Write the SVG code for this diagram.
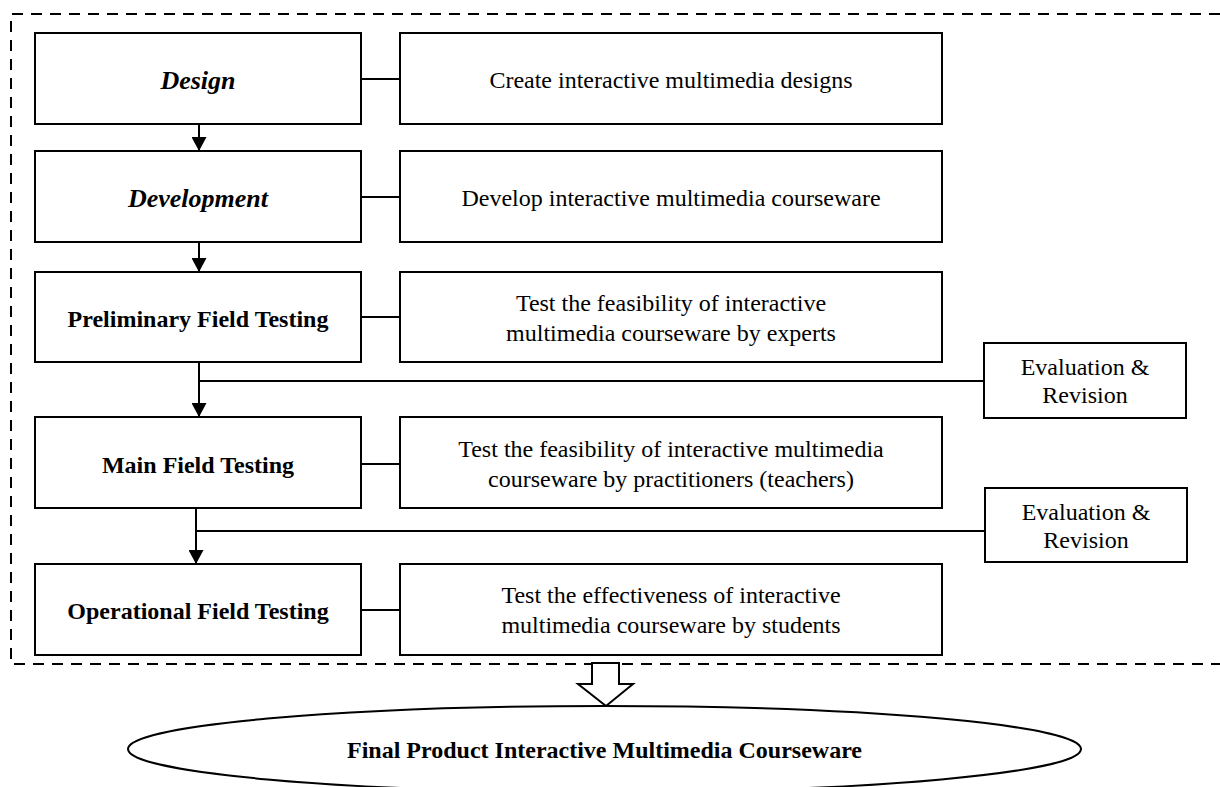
<svg xmlns="http://www.w3.org/2000/svg" width="1220" height="787" viewBox="0 0 1220 787">
<defs>
<style>
.box{fill:#fff;stroke:#000;stroke-width:2}
.ln{fill:none;stroke:#000;stroke-width:2}
.t{font-family:"Liberation Serif","Times New Roman",serif;font-size:24px;fill:#000;text-anchor:middle;dominant-baseline:central}
.b{font-weight:bold}
.bi{font-weight:bold;font-style:italic;font-size:26px}
</style>
<marker id="ah" markerWidth="14" markerHeight="15" refX="14" refY="7.5" orient="auto" markerUnits="userSpaceOnUse">
<path d="M0,0 L14,7.5 L0,15 Z" fill="#000"/>
</marker>
</defs>
<rect width="1220" height="787" fill="#fff"/>
<path d="M1220,14 H11 V664 H1220" fill="none" stroke="#000" stroke-width="2" stroke-dasharray="11,8"/>
<g id="connectors">
<line class="ln" x1="361" y1="79" x2="400" y2="79"/>
<line class="ln" x1="361" y1="197" x2="400" y2="197"/>
<line class="ln" x1="361" y1="317" x2="400" y2="317"/>
<line class="ln" x1="361" y1="464" x2="400" y2="464"/>
<line class="ln" x1="361" y1="610" x2="400" y2="610"/>
<line class="ln" x1="199" y1="124" x2="199" y2="151" marker-end="url(#ah)"/>
<line class="ln" x1="199" y1="242" x2="199" y2="272" marker-end="url(#ah)"/>
<line class="ln" x1="199" y1="362" x2="199" y2="417" marker-end="url(#ah)"/>
<line class="ln" x1="196" y1="508" x2="196" y2="564" marker-end="url(#ah)"/>
<line class="ln" x1="199" y1="381" x2="984" y2="381"/>
<line class="ln" x1="196" y1="531" x2="985" y2="531"/>
<polygon points="592,663 619,663 619,684 633,684 606,706 578,684 592,684" fill="#fff" stroke="#000" stroke-width="2"/>
</g>
<g id="design"><rect class="box" x="35" y="33" width="326" height="91"/><text class="t bi" x="198" y="80">Design</text></g>
<g id="design-desc"><rect class="box" x="400" y="33" width="542" height="91"/><text class="t" x="671" y="80">Create interactive multimedia designs</text></g>
<g id="development"><rect class="box" x="35" y="151" width="326" height="91"/><text class="t bi" x="198" y="198">Development</text></g>
<g id="development-desc"><rect class="box" x="400" y="151" width="542" height="91"/><text class="t" x="671" y="198">Develop interactive multimedia courseware</text></g>
<g id="preliminary"><rect class="box" x="35" y="272" width="326" height="90"/><text class="t b" x="198" y="319">Preliminary Field Testing</text></g>
<g id="preliminary-desc"><rect class="box" x="400" y="272" width="542" height="90"/><text class="t" x="671" y="303">Test the feasibility of interactive</text><text class="t" x="671" y="333">multimedia courseware by experts</text></g>
<g id="eval1"><rect class="box" x="984" y="343" width="202" height="75"/><text class="t" x="1085" y="367">Evaluation &amp;</text><text class="t" x="1085" y="395">Revision</text></g>
<g id="main"><rect class="box" x="35" y="417" width="326" height="91"/><text class="t b" x="198" y="465">Main Field Testing</text></g>
<g id="main-desc"><rect class="box" x="400" y="417" width="542" height="91"/><text class="t" x="671" y="449">Test the feasibility of interactive multimedia</text><text class="t" x="671" y="479">courseware by practitioners (teachers)</text></g>
<g id="eval2"><rect class="box" x="985" y="488" width="202" height="74"/><text class="t" x="1086" y="512">Evaluation &amp;</text><text class="t" x="1086" y="540">Revision</text></g>
<g id="operational"><rect class="box" x="35" y="564" width="326" height="91"/><text class="t b" x="198" y="611">Operational Field Testing</text></g>
<g id="operational-desc"><rect class="box" x="400" y="564" width="542" height="91"/><text class="t" x="671" y="595">Test the effectiveness of interactive</text><text class="t" x="671" y="625">multimedia courseware by students</text></g>
<g id="final"><ellipse cx="604.5" cy="749" rx="476.5" ry="43" fill="#fff" stroke="#000" stroke-width="2"/><text class="t b" x="604.5" y="750">Final Product Interactive Multimedia Courseware</text></g>
</svg>
